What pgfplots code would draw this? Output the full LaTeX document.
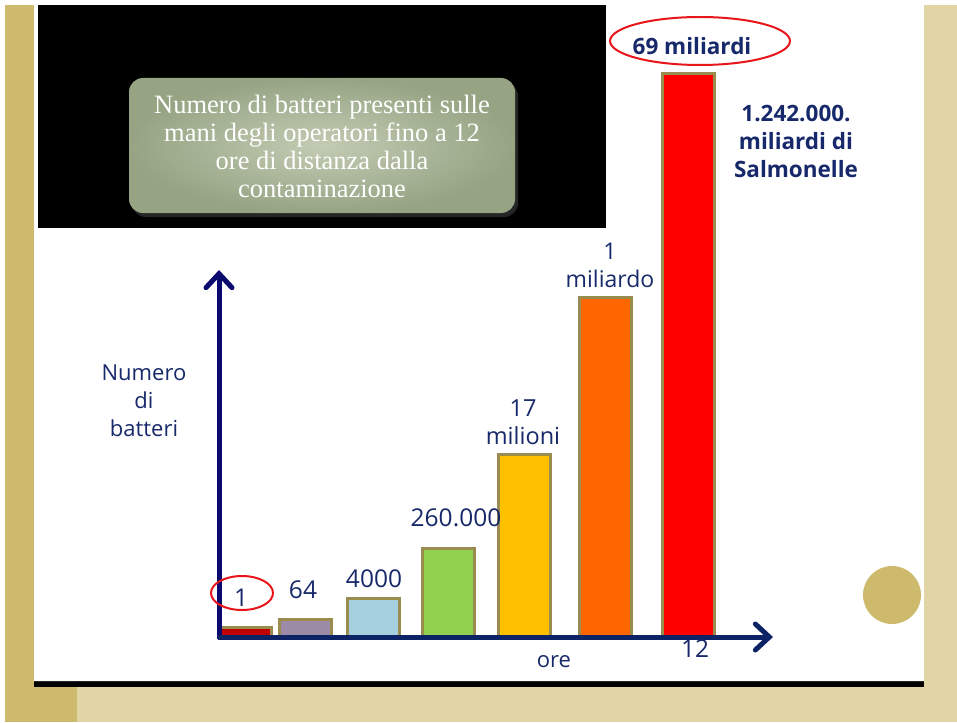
\documentclass[border=0pt]{standalone}
\usepackage{pgfplots}
\pgfplotsset{compat=1.18}
\usepackage{fontspec}
\setmainfont{Open Sans}
\newfontfamily\titlefont{Liberation Serif}
\usetikzlibrary{arrows.meta}
\definecolor{gold}{HTML}{CDBA6C}
\definecolor{tanc}{HTML}{E1D4A5}
\definecolor{boxlight}{HTML}{C2CBB3}
\definecolor{boxdark}{HTML}{96A484}
\definecolor{olivec}{HTML}{9A8B4F}
\definecolor{barA}{HTML}{C00000}
\definecolor{barB}{HTML}{9B8BA6}
\definecolor{barC}{HTML}{A6CFDF}
\definecolor{barD}{HTML}{92D050}
\definecolor{barE}{HTML}{FFC000}
\definecolor{barF}{HTML}{FF6600}
\definecolor{barG}{HTML}{FF0000}
\definecolor{navyY}{HTML}{0A0A6E}
\definecolor{navyX}{HTML}{0C2466}
\definecolor{navytext}{HTML}{17296A}
\definecolor{ellred}{HTML}{E8161B}
\begin{document}
\begin{tikzpicture}[x=1pt,y=-1pt]
\useasboundingbox (0,0) rectangle (957,722);
\fill[white] (0,0) rectangle (957,722);
\fill[gold] (5,5) rectangle (34,722);
\fill[tanc] (924,5) rectangle (957,722);
\fill[tanc] (77,686) rectangle (924,722);
\fill[gold] (5,686) rectangle (77,722);
\fill[black!85] (34,681) rectangle (924,682);
\fill[black] (34,682) rectangle (924,687);
\fill[black] (38,5) rectangle (606,228);
\fill[gold] (892,595) circle (29pt);
% title box
\fill[white!25!black, opacity=0.6, rounded corners=14pt] (132,82) rectangle (518,217);
\shade[rounded corners=14pt, inner color=boxlight, outer color=boxdark] (129,78) rectangle (515,213);
\node[text=white, font=\titlefont\fontsize{26.5}{28}\selectfont, align=center] at (322,146)
  {Numero di batteri presenti sulle\\mani degli operatori fino a 12\\ore di distanza dalla\\contaminazione};
% chart
\begin{axis}[at={(200pt,-636pt)}, anchor=south west, scale only axis,
  width=600pt, height=600pt, xmin=200, xmax=800, ymin=0, ymax=600,
  hide axis, clip=false]
\addplot[ybar, bar width=52pt, bar shift=0pt, fill=barA, draw=olivec, line width=3pt] coordinates {(245.5,8.5)};
\addplot[ybar, bar width=52pt, bar shift=0pt, fill=barB, draw=olivec, line width=3pt] coordinates {(305.5,16.5)};
\addplot[ybar, bar width=52pt, bar shift=0pt, fill=barC, draw=olivec, line width=3pt] coordinates {(373.5,37.5)};
\addplot[ybar, bar width=52pt, bar shift=0pt, fill=barD, draw=olivec, line width=3pt] coordinates {(448,87.5)};
\addplot[ybar, bar width=52pt, bar shift=0pt, fill=barE, draw=olivec, line width=3pt] coordinates {(524,181.5)};
\addplot[ybar, bar width=52pt, bar shift=0pt, fill=barF, draw=olivec, line width=3pt] coordinates {(605.5,338.5)};
\addplot[ybar, bar width=52pt, bar shift=0pt, fill=barG, draw=olivec, line width=3pt] coordinates {(688.5,562.5)};
\draw[navyY, line width=5pt, -{Straight Barb[length=14pt 0, width=26pt 0, line cap=round]}] (axis cs:219,-3) -- (axis cs:219,366);
\draw[navyX, line width=5pt, -{Straight Barb[length=14pt 0, width=26pt 0, line cap=round]}] (axis cs:218,-1) -- (axis cs:773,-1);
\end{axis}
% labels
\tikzset{lab/.style={text=navytext, font=\fontsize{22}{28}\selectfont, align=center, inner sep=0pt}}
\tikzset{num/.style={lab, font=\fontsize{24.5}{28}\selectfont}}
\node[num] at (241,598) {1};
\draw[ellred, line width=2pt] (242,593) ellipse [x radius=31pt, y radius=17pt];
\node[num] at (303,590) {64};
\node[num] at (374,579) {4000};
\node[num] at (456,518) {260.000};
\node[lab, font=\fontsize{23.5}{28}\selectfont] at (523,422) {17\\milioni};
\node[lab, font=\fontsize{23}{28}\selectfont] at (610,265) {1\\miliardo};
\node[lab, font=\bfseries\fontsize{22.5}{28}\selectfont] at (692,46) {69 miliardi};
\draw[ellred, line width=2pt] (700,41) ellipse [x radius=90pt, y radius=24pt];
\node[lab, font=\bfseries\fontsize{22.5}{28}\selectfont] at (796,141) {1.242.000.\\miliardi di\\Salmonelle};
\node[lab] at (144,401) {Numero\\di\\batteri};
\node[lab] at (554,662) {ore};
\node[num] at (695,649) {12};
\end{tikzpicture}
\end{document}
